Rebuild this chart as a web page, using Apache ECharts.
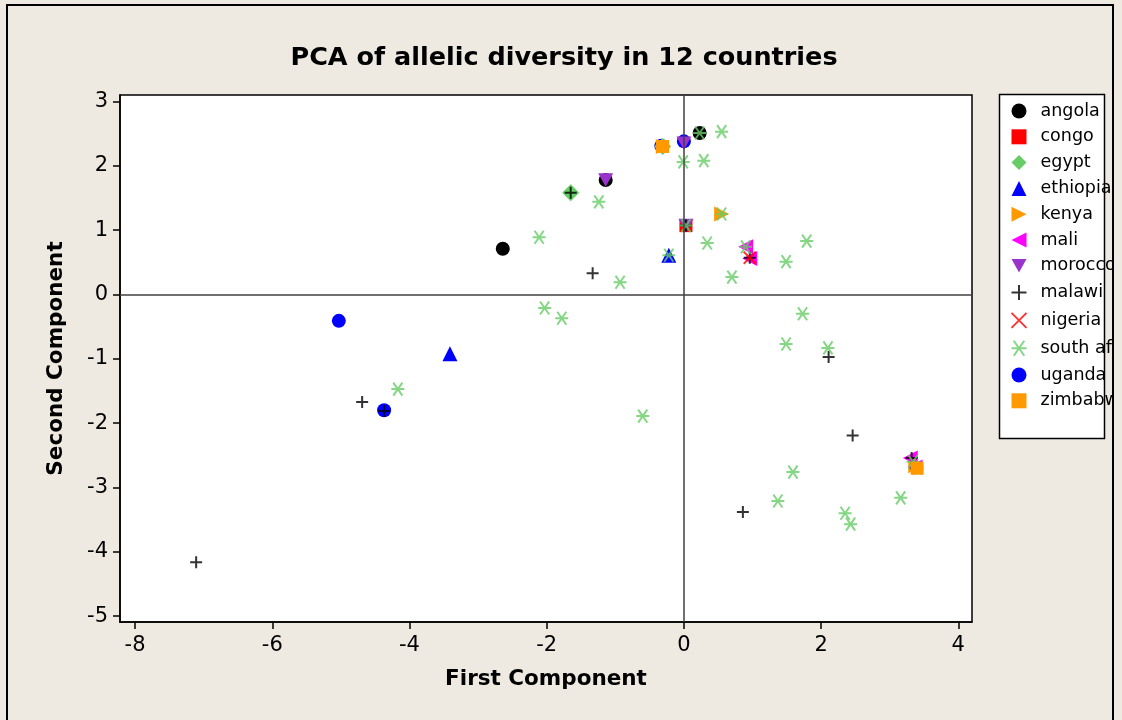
<!DOCTYPE html>
<html>
<head>
<meta charset="utf-8">
<script src="https://cdn.jsdelivr.net/npm/echarts@6/dist/echarts.min.js"></script>
<style>
html,body{margin:0;padding:0;background:#EEEAE1;}
#chart{width:1122px;height:720px;}
</style>
</head>
<body>
<div id="chart"></div>
<script>
var countries = ['angola','congo','egypt','ethiopia','kenya','mali','morocco','malawi','nigeria','south africa','uganda','zimbabwe'];
var xTicks = [-8,-6,-4,-2,0,2,4];
var yTicks = [-5,-4,-3,-2,-1,0,1,2,3];

var angola = [[0.23,2.51],[-2.64,0.71],[-1.14,1.78]];
var congo = [[0.03,1.07]];
var egypt = [[-0.31,2.30],[-1.65,1.58]];
var ethiopia = [[-0.22,0.61],[-3.41,-0.92]];
var kenya = [[-0.30,2.30],[0.55,1.25],[3.38,-2.66]];
var mali = [[0.90,0.74],[0.96,0.56],[3.30,-2.54],[3.37,-2.68]];
var morocco = [[0.00,2.35],[-1.14,1.78],[0.03,1.07]];
var malawi = [[-0.31,2.30],[-1.65,1.58],[0.03,1.07],[0.96,0.57],[-1.33,0.33],[-4.69,-1.67],[-4.37,-1.81],[-7.11,-4.16],[2.11,-0.97],[2.46,-2.19],[0.86,-3.38],[3.32,-2.54],[3.38,-2.70]];
var nigeria = [[0.96,0.57]];
var southAfrica = [[0.23,2.51],[0.55,2.53],[-0.01,2.06],[0.29,2.08],[-1.24,1.44],[0.55,1.25],[0.03,1.07],[0.34,0.80],[-0.22,0.61],[0.90,0.74],[1.79,0.83],[1.49,0.51],[0.70,0.27],[-2.11,0.89],[-0.93,0.19],[-2.03,-0.21],[-1.78,-0.37],[-4.17,-1.47],[-0.60,-1.89],[1.73,-0.30],[1.49,-0.77],[2.10,-0.83],[1.59,-2.76],[1.37,-3.21],[2.35,-3.40],[2.43,-3.57],[3.16,-3.16],[3.34,-2.60],[3.40,-2.70]];
var uganda = [[-0.33,2.31],[0.00,2.38],[-5.03,-0.41],[-4.37,-1.80]];
var zimbabwe = [[-0.31,2.30],[3.40,-2.70]];

var seriesData = [angola,congo,egypt,ethiopia,kenya,mali,morocco,malawi,nigeria,southAfrica,uganda,zimbabwe];

var PLUS = 'path://M0,5 L10,5 M5,0 L5,10';
var XMARK = 'path://M0,0 L10,10 M10,0 L0,10';
var ASTER = 'path://M1.5,0 L8.5,10 M8.5,0 L1.5,10 M0,5 L10,5';
var TRI_R = 'path://M0,0 L10,5 L0,10 Z';
var TRI_L = 'path://M10,0 L0,5 L10,10 Z';
var TRI_D = 'path://M0,0 L10,0 L5,9 Z';

var styles = [
  {symbol:'circle', size:14, color:'#000000'},
  {symbol:'rect', size:13, color:'#FF0000'},
  {symbol:'diamond', size:17, color:'#66CC66'},
  {symbol:'triangle', size:15, color:'#0000FF'},
  {symbol:TRI_R, size:15, color:'#FF9900'},
  {symbol:TRI_L, size:15, color:'#FF00FF'},
  {symbol:TRI_D, size:15, color:'#9933CC'},
  {symbol:PLUS, size:12, color:'#000000', stroke:true},
  {symbol:XMARK, size:12, color:'#FF0000', stroke:true},
  {symbol:ASTER, size:13, color:'#66CC66', stroke:true},
  {symbol:'circle', size:14, color:'#0000FF'},
  {symbol:'rect', size:13, color:'#FF9900'}
];

var series = countries.map(function(name, i){
  var s = styles[i];
  return {
    name: name,
    type: 'scatter',
    data: seriesData[i],
    symbol: s.symbol,
    symbolSize: s.size,
    symbolKeepAspect: true,
    z: name === 'uganda' ? 1 : 2,
    itemStyle: s.stroke ? {color:'none', borderColor:s.color, borderWidth:2} : {color:s.color, opacity:1},
    emphasis: {disabled:true},
    animation: false
  };
});

series.push({
  name: 'ref',
  type: 'scatter',
  data: [],
  silent: true,
  animation: false,
  markLine: {
    silent: true,
    symbol: ['none','none'],
    label: {show:false},
    animation: false,
    lineStyle: {color:'#404040', width:1.5, type:'solid'},
    data: [{xAxis:0},{yAxis:0}]
  }
});

var chart = echarts.init(document.getElementById('chart'), null, {renderer:'canvas'});
chart.setOption({
  backgroundColor: '#EEEAE1',
  animation: false,
  textStyle: {fontFamily:'DejaVu Sans'},
  title: {
    text: 'PCA of allelic diversity in 12 countries',
    left: 559, top: 40, textAlign: 'center',
    textStyle: {fontFamily:'DejaVu Sans', fontWeight:'bold', fontSize:25.5, color:'#000'}
  },
  grid: {
    left: 120, top: 95, width: 852, height: 527,
    show: true, backgroundColor:'#FFFFFF', borderColor:'#000000', borderWidth:1.5
  },
  legend: {
    data: countries,
    orient: 'vertical',
    left: 1009, top: 102,
    itemWidth: 15, itemHeight: 15, itemGap: 7.8,
    padding: 0,
    textStyle: {fontFamily:'DejaVu Sans', fontSize:17.5, color:'#000', padding:[0,0,0,9]},
    selectedMode: false
  },
  xAxis: {
    type: 'value', min: -8.22, max: 4.2,
    name: 'First Component', nameLocation: 'middle', nameGap: 46,
    nameTextStyle: {fontFamily:'DejaVu Sans', fontWeight:'bold', fontSize:21.5, color:'#000'},
    axisLine: {show:true, onZero:false, lineStyle:{color:'#000', width:1.5}},
    axisTick: {show:true, inside:false, length:7, lineStyle:{color:'#000', width:1.5}, customValues: xTicks},
    axisLabel: {show:true, margin:13, fontSize:21, color:'#000', fontFamily:'DejaVu Sans', customValues: xTicks},
    splitLine: {show:false}
  },
  yAxis: {
    type: 'value', min: -5.09, max: 3.1,
    name: 'Second Component', nameLocation: 'middle', nameGap: 53,
    nameTextStyle: {fontFamily:'DejaVu Sans', fontWeight:'bold', fontSize:21.5, color:'#000'},
    axisLine: {show:true, onZero:false, lineStyle:{color:'#000', width:1.5}},
    axisTick: {show:true, inside:false, length:7, lineStyle:{color:'#000', width:1.5}, customValues: yTicks},
    axisLabel: {show:true, margin:12, fontSize:21, color:'#000', fontFamily:'DejaVu Sans', customValues: yTicks},
    splitLine: {show:false}
  },
  graphic: [
    {type:'rect', z:-1, silent:true, shape:{x:999.5, y:94.5, width:105, height:344}, style:{fill:'#FFFFFF', stroke:'#000', lineWidth:1.5}},
    {type:'rect', z:100, silent:true, shape:{x:1113, y:0, width:12, height:720}, style:{fill:'#EEEAE1'}},
    {type:'rect', z:101, silent:true, shape:{x:7, y:5, width:1106, height:740}, style:{fill:null, stroke:'#000', lineWidth:2}}
  ],
  series: series
});
</script>
</body>
</html>
